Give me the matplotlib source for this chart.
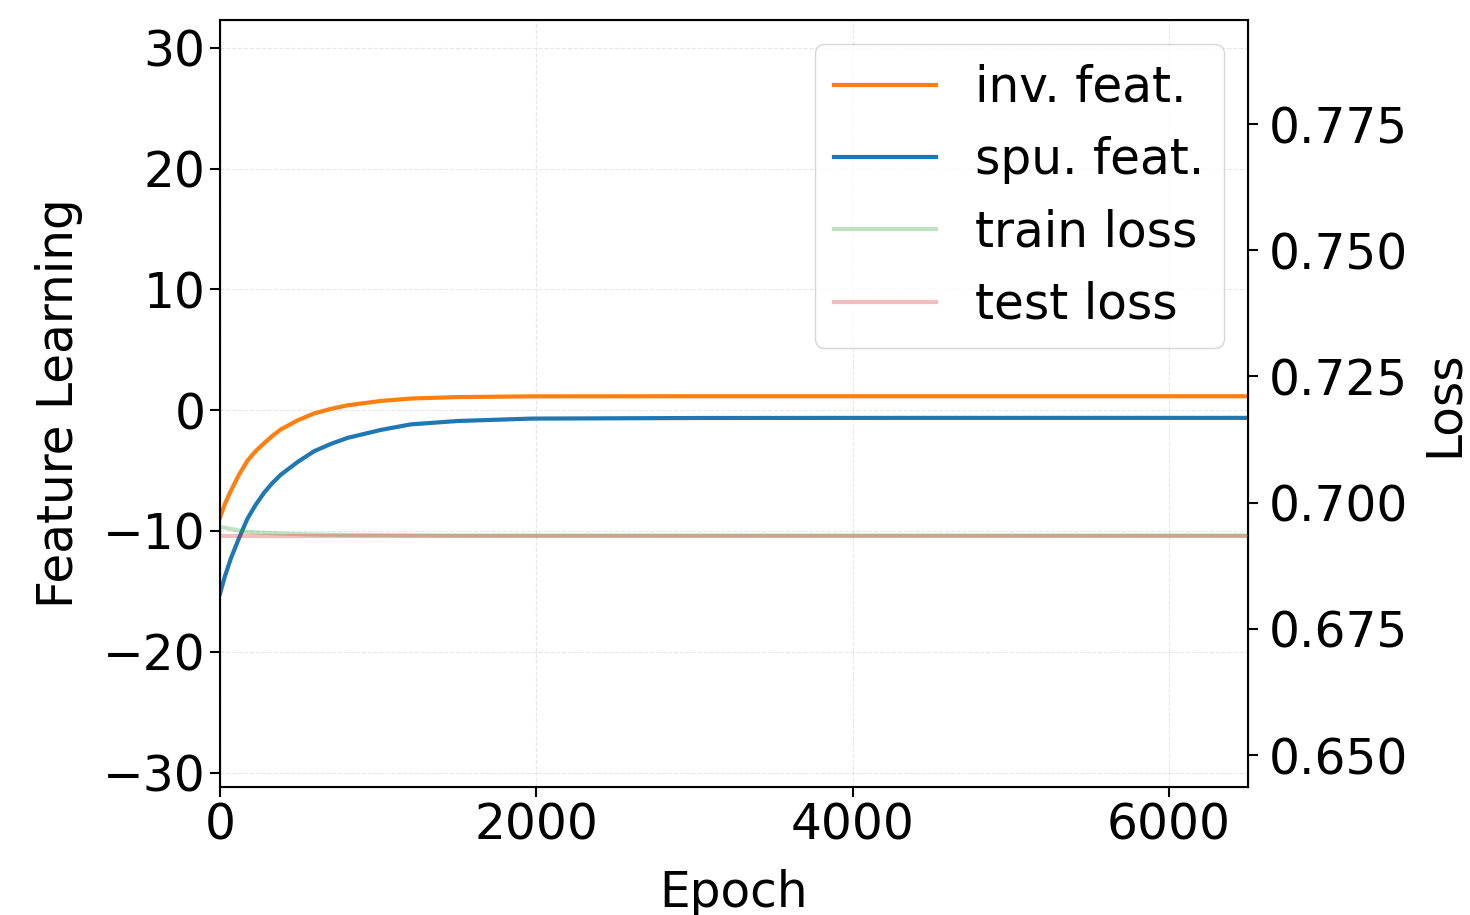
import matplotlib
matplotlib.use("Agg")
import matplotlib.pyplot as plt

# feature learning curves
epochs = [0, 30, 68, 120, 173, 225, 278, 330, 384, 490, 595, 700, 806, 1016, 1206, 1500, 1970, 3030, 4500, 6500]
inv_feat = [-8.9, -7.8, -6.7, -5.35, -4.2, -3.4, -2.75, -2.15, -1.6, -0.85, -0.27, 0.1, 0.4, 0.76, 0.96, 1.08, 1.14, 1.15, 1.15, 1.15]
spu_feat = [-15.2, -13.8, -12.3, -10.6, -9.0, -7.85, -6.85, -6.05, -5.35, -4.3, -3.4, -2.8, -2.3, -1.64, -1.18, -0.9, -0.7, -0.65, -0.64, -0.64]

loss_epochs = [0, 173, 384, 595, 900, 1500, 6500]
train_loss = [0.6952, 0.6942, 0.6939, 0.6937, 0.6936, 0.6935, 0.6935]
test_loss = [0.6934, 0.6934, 0.6934, 0.6934, 0.6934, 0.6934, 0.6934]

fs = 35
fig = plt.figure(figsize=(14.7, 9.15), dpi=100)
ax = fig.add_axes([220 / 1470, 1 - 787 / 915, 1028 / 1470, 767 / 915])
ax2 = ax.twinx()

l1, = ax.plot(epochs, inv_feat, color='tab:orange', lw=3, label='inv. feat.')
l2, = ax.plot(epochs, spu_feat, color='tab:blue', lw=3, label='spu. feat.')
l3, = ax2.plot(loss_epochs, train_loss, color='tab:green', lw=3, alpha=0.3, label='train loss')
l4, = ax2.plot(loss_epochs, test_loss, color='tab:red', lw=3, alpha=0.3, label='test loss')

ax.set_xlim(0, 6500)
ax.set_ylim(-31.2, 32.3)
ax2.set_ylim(0.6437, 0.7956)
ax.set_yticks([-30, -20, -10, 0, 10, 20, 30])
ax2.set_yticks([0.650, 0.675, 0.700, 0.725, 0.750, 0.775])
ax.set_xticks([0, 2000, 4000, 6000])

ax.grid(True, ls='--', alpha=0.3)
ax.tick_params(labelsize=fs, width=1.5, length=7)
ax2.tick_params(labelsize=fs, width=1.5, length=7, pad=8)
for sp in ax.spines.values():
    sp.set_linewidth(1.5)

ax.set_xlabel('Epoch', fontsize=fs, labelpad=14)
ax.set_ylabel('Feature Learning', fontsize=fs, labelpad=14)
ax2.set_ylabel('Loss', fontsize=fs, labelpad=8)

ax2.legend([l1, l2, l3, l4], [l.get_label() for l in [l1, l2, l3, l4]],
           loc='upper right', fontsize=fs, handlelength=2.1)

fig.savefig('out.png', dpi=100)
